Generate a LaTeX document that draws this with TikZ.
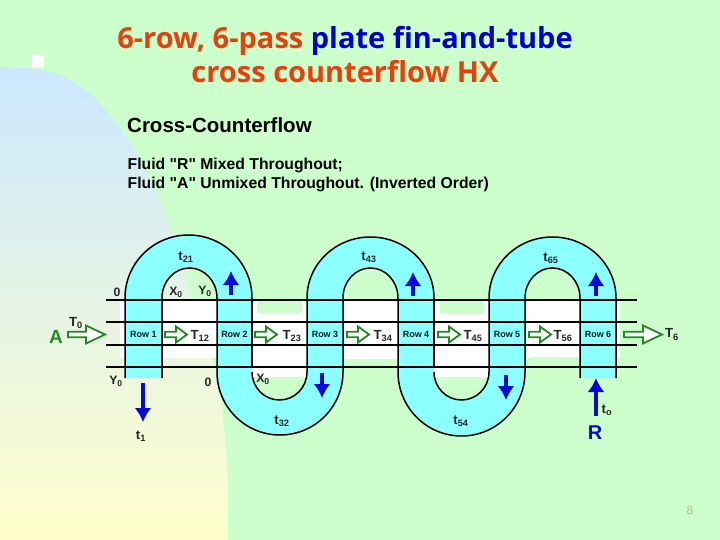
\documentclass[tikz,border=0pt]{standalone}
\usepackage{fontspec}
\setmainfont{Liberation Sans}
\newfontfamily\titlefont{Open Sans}
\newfontfamily\plainquote{Liberation Sans}
\usetikzlibrary{arrows.meta}
\definecolor{slidegreen}{HTML}{CCFFCC}
\definecolor{skyblue}{HTML}{CCE8FF}
\definecolor{paleyellow}{HTML}{FFFFCC}
\definecolor{tubecyan}{HTML}{8CFFFF}
\definecolor{titlered}{HTML}{E8400C}
\definecolor{titleblue}{HTML}{0000CC}
\definecolor{flowgreen}{HTML}{1F8A1F}
\definecolor{flowblue}{HTML}{0A0AD8}
\definecolor{pagegray}{HTML}{C0B878}
\tikzset{
  line/.style={line width=1.5pt,black},
  rowlabel/.style={font=\bfseries\fontsize{9}{10}\selectfont,text=black!75!teal},
  templabel/.style={font=\bfseries\fontsize{13.2}{16}\selectfont,text=black!85},
  smalllabel/.style={font=\bfseries\fontsize{12.2}{15}\selectfont,text=black!85},
  airflow/.style={draw=flowgreen,line width=1.8pt,fill=white},
  tubeflow/.style={-{Latex[length=14pt,width=17pt]},line width=4.2pt,flowblue}
}
% block arrow for the air side: #1 start, #2 length, #3 head length, #4 head half height
\newcommand{\airarrow}[4]{%
  \draw[airflow] (#1,334.5) ++(0,-2.7) -- ++(#2-#3,0) -- ++(0,2.7-#4) -- ++(#3,#4)
    -- ++(-#3,#4) -- ++(0,2.7-#4) -- ++(#3-#2,0) -- cycle;}
\begin{document}
\begin{tikzpicture}[x=1pt,y=-1pt]
  \useasboundingbox (0,0) rectangle (720,540);
  % slide background
  \fill[slidegreen] (0,0) rectangle (720,540);
  \shade[top color=skyblue,bottom color=paleyellow] plot[smooth] coordinates
    {(0,67) (35,69) (67,78) (100,103) (133,147) (157,193) (175,240) (190,290) (218,380) (228,480)} -- (228,540) -- (0,540) -- cycle;
  \fill[white] (32,55) rectangle (44,67);
  % title
  \node[font=\titlefont\bfseries\fontsize{29}{34}\selectfont,align=center,text=titlered] (title) at (345,55)
    {6-row, 6-pass \textcolor{titleblue}{plate fin-and-tube}\\cross counterflow HX};
  \node[font=\bfseries\fontsize{20.5}{24}\selectfont,anchor=west,inner sep=0pt] (heading) at (127,125.5) {Cross-Counterflow};
  \node[font=\plainquote\bfseries\fontsize{15.75}{19}\selectfont,align=left,anchor=west,inner sep=0pt] (fluids) at (127.5,174.5)
    {Fluid "R" Mixed Throughout;\\Fluid "A" Unmixed Throughout. (Inverted Order)};
  % white fin plate
  \fill[white] (120,299) rectangle (620,358);
  \fill[white] (252,345) rectangle (307,377);
  \fill[white] (343,345) rectangle (398,359);
  \fill[white] (434,345) rectangle (489,377);
  \fill[slidegreen] (257,299) rectangle (302,313);
  \fill[slidegreen] (440,299) rectangle (483,314);
  \fill[slidegreen] (530,357) rectangle (580,368);
  \fill[slidegreen] (349,359) rectangle (393,368);
  % tube
  \fill[tubecyan] (125,378) -- (125,298) arc[start angle=180,end angle=0,x radius=63.5,y radius=-63] -- (252,372)
    arc[start angle=180,end angle=360,x radius=27.5,y radius=-28] -- (307,298)
    arc[start angle=180,end angle=0,x radius=63.5,y radius=-61] -- (434,372)
    arc[start angle=180,end angle=360,x radius=27.5,y radius=-28] -- (489,298)
    arc[start angle=180,end angle=0,x radius=63.5,y radius=-61] -- (616,378) -- (580,378) -- (580,298)
    arc[start angle=0,end angle=180,x radius=27.5,y radius=-30] -- (525,372)
    arc[start angle=360,end angle=180,x radius=63.5,y radius=-64] -- (398,298)
    arc[start angle=0,end angle=180,x radius=27.5,y radius=-30] -- (343,372)
    arc[start angle=360,end angle=180,x radius=63,y radius=-63] -- (217,298)
    arc[start angle=0,end angle=180,x radius=27.5,y radius=-30] -- (162,378) -- cycle;
  \draw[line] (125,378) -- (125,298) arc[start angle=180,end angle=0,x radius=63.5,y radius=-63] -- (252,298) (252,372)
    arc[start angle=180,end angle=360,x radius=27.5,y radius=-28] -- (307,298)
    arc[start angle=180,end angle=0,x radius=63.5,y radius=-61] -- (434,298) (434,372)
    arc[start angle=180,end angle=360,x radius=27.5,y radius=-28] -- (489,298)
    arc[start angle=180,end angle=0,x radius=63.5,y radius=-61] -- (616,378);
  \draw[line] (580,378) -- (580,298)
    arc[start angle=0,end angle=180,x radius=27.5,y radius=-30] -- (525,372)
    arc[start angle=360,end angle=180,x radius=63.5,y radius=-64] -- (398,298)
    arc[start angle=0,end angle=180,x radius=27.5,y radius=-30] -- (343,372)
    arc[start angle=360,end angle=180,x radius=63,y radius=-63] -- (217,298)
    arc[start angle=0,end angle=180,x radius=27.5,y radius=-30] -- (162,378);
  \draw[line] (252,298) -- (252,367) (434,298) -- (434,367);
  % horizontal fins
  \foreach \y in {300,322,345,367} \draw[line] (106,\y) -- (637,\y);
  % rows
  \foreach \n/\x in {1/143.5,2/234.5,3/325,4/416,5/507,6/598}
    \node[rowlabel] (row\n) at (\x,334.5) {Row \n};
  % air side
  \airarrow{68}{37}{19}{9}
  \foreach \x in {165,255,347,438,529} {\airarrow{\x}{22}{11}{8}}
  \airarrow{624}{38}{19}{9}
  \node[font=\bfseries\fontsize{19}{22}\selectfont,text=flowgreen] (inA) at (56,337) {A};
  \foreach \name/\x/\txt in {T12/200/12,T23/292/23,T34/383/34,T45/473/45,T56/563/56}
    \node[templabel] (\name) at (\x,336) {T\textsubscript{\txt}};
  \node[templabel] (T0) at (76,323) {T\textsubscript{0}};
  \node[templabel] (T6) at (672,334.5) {T\textsubscript{6}};
  % tube side
  \coordinate (up1s) at (231,295); \coordinate (up1e) at (231,271);
  \coordinate (up2s) at (413,296); \coordinate (up2e) at (413,272);
  \coordinate (up3s) at (596,296); \coordinate (up3e) at (596,272);
  \coordinate (dn1s) at (322,373); \coordinate (dn1e) at (322,398);
  \coordinate (dn2s) at (506,375); \coordinate (dn2e) at (506,400);
  \coordinate (outs) at (143,383); \coordinate (oute) at (143,422);
  \coordinate (ins) at (596,416); \coordinate (ine) at (596,378);
  \foreach \s/\e in {up1s/up1e,up2s/up2e,up3s/up3e,dn1s/dn1e,dn2s/dn2e,outs/oute,ins/ine}
    \draw[tubeflow] (\s) -- (\e);
  \foreach \name/\x/\y/\txt in {t21/186/257/21,t43/369/257/43,t65/551/258/65,t32/282/421/32,t54/461/421/54,t1/141/436/1,to/607/410/o}
    \node[templabel] (\name) at (\x,\y) {t\textsubscript{\txt}};
  \node[font=\bfseries\fontsize{20}{23}\selectfont,text=flowblue] (inR) at (595,433) {R};
  % end labels
  \foreach \name/\x/\y/\txt in {za/117/292/0,zb/208/382/0}
    \node[smalllabel] (\name) at (\x,\y) {\txt};
  \foreach \name/\x/\y/\txt in {xa/176/292/X,ya/205/291/Y,yb/116/381/Y,xb/263/379/X}
    \node[smalllabel] (\name) at (\x,\y) {\txt\textsubscript{0}};
  \node[font=\fontsize{12}{14}\selectfont,text=pagegray] (page) at (690,510) {8};
\end{tikzpicture}
\end{document}
